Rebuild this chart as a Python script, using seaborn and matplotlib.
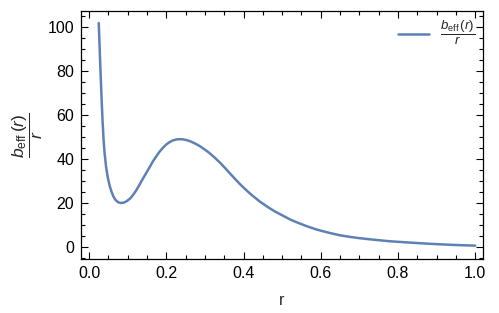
import matplotlib
matplotlib.use("Agg")
import matplotlib.pyplot as plt
from matplotlib.ticker import MultipleLocator
import seaborn as sns
import pandas as pd

r_vals = [0.025, 0.0275, 0.030, 0.0325, 0.035, 0.0375, 0.040, 0.044, 0.048, 0.053,
          0.058, 0.063, 0.068, 0.075, 0.082, 0.090, 0.097, 0.106, 0.114, 0.123,
          0.131, 0.140, 0.149, 0.158, 0.166, 0.175, 0.183, 0.192, 0.200, 0.209,
          0.218, 0.227, 0.235, 0.244, 0.252, 0.261, 0.270, 0.279, 0.288, 0.296,
          0.305, 0.313, 0.326, 0.339, 0.352, 0.365, 0.378, 0.391, 0.404, 0.417,
          0.430, 0.443, 0.456, 0.469, 0.482, 0.495, 0.508, 0.521, 0.534, 0.547,
          0.560, 0.573, 0.590, 0.607, 0.625, 0.650, 0.675, 0.700, 0.737, 0.778,
          0.820, 0.875, 0.920, 0.962, 1.000]
b_over_r = [102.0, 90.0, 78.0, 67.0, 57.0, 49.0, 43.0, 36.5, 32.0, 28.0,
            25.2, 23.0, 21.5, 20.4, 20.0, 20.2, 20.8, 22.0, 23.7, 26.0,
            28.5, 31.3, 34.0, 36.7, 39.2, 41.5, 43.5, 45.3, 46.7, 47.8,
            48.6, 49.0, 49.1, 49.0, 48.7, 48.2, 47.5, 46.7, 45.8, 44.8,
            43.7, 42.6, 40.6, 38.4, 36.0, 33.5, 31.0, 28.6, 26.4, 24.3,
            22.4, 20.6, 19.0, 17.5, 16.1, 14.9, 13.7, 12.5, 11.5, 10.6,
            9.7, 8.9, 7.9, 7.1, 6.3, 5.3, 4.6, 4.0, 3.3, 2.6,
            2.1, 1.5, 1.1, 0.8, 0.6]
x_ticks = [0.0, 0.2, 0.4, 0.6, 0.8, 1.0]
x_ticklabels = ["0.0", "0.2", "0.4", "0.6", "0.8", "1.0"]
y_ticks = [0, 20, 40, 60, 80, 100]
curve_label = r'$\dfrac{b_{\rm eff}\,(r)}{r}$'

df = pd.DataFrame({"r": r_vals, "y": b_over_r})

sns.set_style("ticks")
plt.rcParams['font.family'] = ['Liberation Sans', 'DejaVu Sans']
plt.rcParams['mathtext.fontset'] = 'custom'
plt.rcParams['mathtext.rm'] = 'Liberation Sans'
plt.rcParams['mathtext.it'] = 'Liberation Sans:italic'

fig = plt.figure(figsize=(4.99, 3.13), dpi=100)
ax = fig.add_axes([0.1623, 0.1725, 0.8057, 0.7924])

sns.lineplot(data=df, x="r", y="y", ax=ax, color="#5E81B5", linewidth=1.8,
             label=curve_label)

ax.set_xlim(-0.021, 1.0205)
ax.set_ylim(-5.5, 107.5)
ax.set_xticks(x_ticks)
ax.set_xticklabels(x_ticklabels)
ax.set_yticks(y_ticks)
ax.xaxis.set_minor_locator(MultipleLocator(0.05))
ax.yaxis.set_minor_locator(MultipleLocator(5))
ax.tick_params(which='both', direction='in', top=True, right=True,
               labelsize=11.5, colors='black', width=0.8)
ax.tick_params(which='major', length=5, pad=5)
ax.tick_params(which='minor', length=2.8)
for s in ax.spines.values():
    s.set_color('black')
    s.set_linewidth(0.9)

ax.set_xlabel("r", fontsize=11.5, labelpad=9)
ax.set_ylabel(curve_label, fontsize=12.5)
ax.yaxis.set_label_coords(-0.09, 0.5)

ax.legend(loc='upper right', frameon=False, fontsize=9.5,
          handlelength=2.4, borderaxespad=0.2)

fig.savefig("out.png", dpi=100)
